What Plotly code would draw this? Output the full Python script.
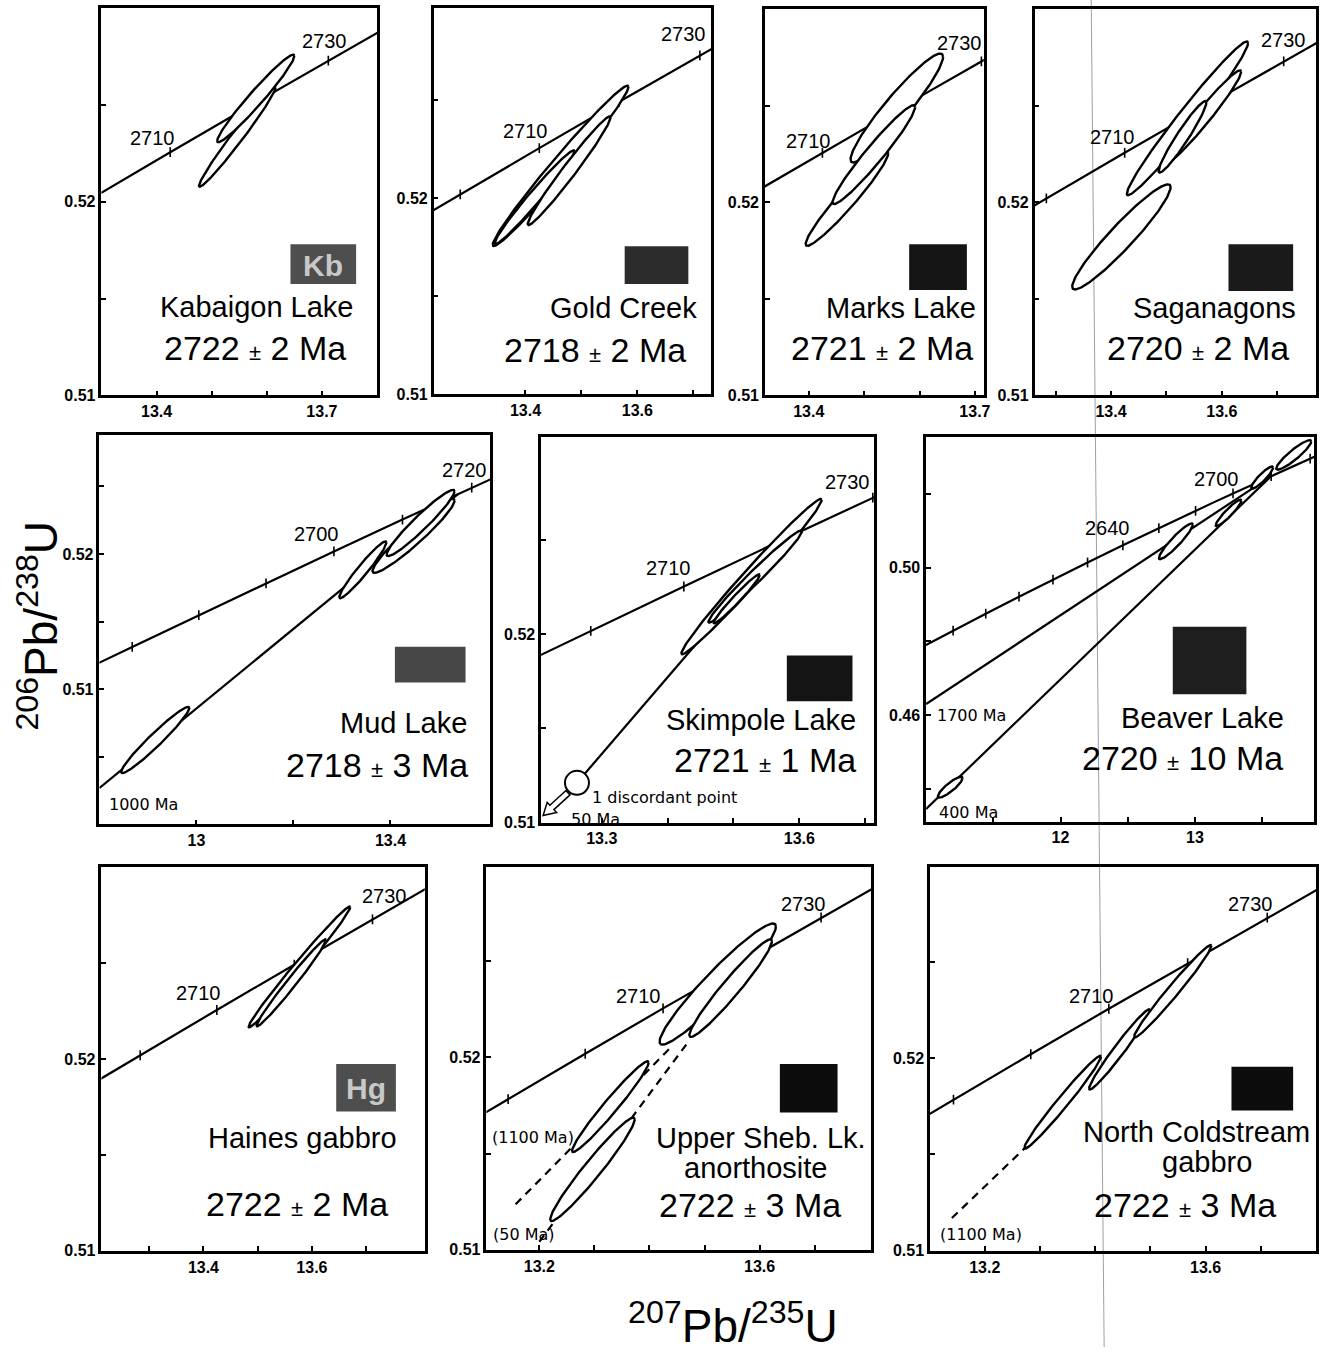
import math
import plotly.graph_objects as go

W, H = 1327, 1356

# ---------------- data ----------------
CONC_AGE = [2520, 2540, 2560, 2580, 2600, 2620, 2640, 2650, 2660, 2670, 2680,
            2690, 2700, 2710, 2720, 2730, 2740, 2750]
CONC_PB207_U235 = [10.96305, 11.20102, 11.44373, 11.69125, 11.94372, 12.20119,
                   12.46379, 12.59705, 12.73162, 12.86752, 13.00477, 13.14339,
                   13.28337, 13.42472, 13.56749, 13.71166, 13.85729, 14.00428]
CONC_PB206_U238 = [0.478333, 0.482927, 0.487534, 0.492157, 0.496794, 0.501445,
                   0.506109, 0.508447, 0.510790, 0.513135, 0.515484, 0.517837,
                   0.520193, 0.522553, 0.524916, 0.527283, 0.529655, 0.532040]

SAMPLE_NAMES = ["Kabaigon Lake", "Gold Creek", "Marks Lake", "Saganagons",
                "Mud Lake", "Skimpole Lake", "Beaver Lake", "Haines gabbro",
                "Upper Sheb. Lk.|anorthosite", "North Coldstream|gabbro"]
AGE_VALUES = [2722, 2718, 2721, 2720, 2718, 2721, 2720, 2722, 2722, 2722]
AGE_ERRORS = [2, 2, 2, 2, 3, 1, 10, 2, 3, 3]
ICON_LABELS = ["Kb", "", "", "", "", "", "", "Hg", "", ""]

# ellipses: (x0 = 207Pb/235U, y0 = 206Pb/238U, sx, sy, rho)
KAB_ELLIPSES = [(13.5465, 0.52336, 0.0695, 0.00259, 0.982),
                (13.580, 0.52533, 0.0700, 0.00226, 0.970)]
GOLD_ELLIPSES = [(13.4628, 0.52165, 0.1214, 0.00409, 0.985),
                 (13.4163, 0.52005, 0.0714, 0.00239, 0.980),
                 (13.478, 0.52140, 0.0740, 0.00277, 0.980)]
MARKS_ELLIPSES = [(13.469, 0.52018, 0.0745, 0.00244, 0.960),
                  (13.559, 0.52487, 0.0835, 0.00282, 0.940),
                  (13.5176, 0.52246, 0.0745, 0.00256, 0.962)]
SAG_ELLIPSES = [(13.4188, 0.51820, 0.0888, 0.00272, 0.945),
                (13.538, 0.52434, 0.1094, 0.00398, 0.980),
                (13.565, 0.52438, 0.0700, 0.00244, 0.970),
                (13.529, 0.52338, 0.0430, 0.00185, 0.955)]
MUD_ELLIPSES = [(12.915, 0.50625, 0.0703, 0.00245, 0.965),
                (13.343, 0.51884, 0.0485, 0.00210, 0.960),
                (13.4475, 0.52135, 0.0846, 0.00274, 0.950),
                (13.462, 0.52230, 0.0700, 0.00245, 0.955)]
SKIM_ELLIPSES = [(13.5275, 0.52308, 0.1065, 0.00413, 0.988),
                 (13.533, 0.52308, 0.0710, 0.00245, 0.982),
                 (13.505, 0.52190, 0.0350, 0.00130, 0.975)]
BEAVER_ELLIPSES = [(11.18, 0.44043, 0.092, 0.00283, 0.87),
                   (12.858, 0.50720, 0.126, 0.00486, 0.93),
                   (13.25, 0.51490, 0.096, 0.00360, 0.93),
                   (13.50, 0.52450, 0.081, 0.00300, 0.90),
                   (13.735, 0.53065, 0.130, 0.00400, 0.91)]
HAINES_ELLIPSES = [(13.577, 0.52480, 0.0936, 0.00315, 0.990),
                   (13.562, 0.52397, 0.0640, 0.00227, 0.985)]
SHEB_ELLIPSES = [(13.524, 0.52382, 0.1056, 0.00315, 0.950),
                 (13.5475, 0.52361, 0.0750, 0.00254, 0.962),
                 (13.329, 0.51744, 0.0695, 0.00236, 0.972),
                 (13.2966, 0.51418, 0.0767, 0.00269, 0.965)]
NC_ELLIPSES = [(13.341, 0.51770, 0.0694, 0.00241, 0.982),
               (13.444, 0.52044, 0.0550, 0.00208, 0.975),
               (13.5405, 0.52346, 0.0700, 0.00240, 0.982)]

# discordia chords: (x list, y list)
MUD_CHORD_X, MUD_CHORD_Y = [12.80, 13.539], [0.5027, 0.52444]
SKIM_CHORD_X, SKIM_CHORD_Y = [13.2624, 13.582], [0.51211, 0.52515]
BEAVER_CHORD1_X, BEAVER_CHORD1_Y = [11.0, 13.567], [0.4630, 0.5249]
BEAVER_CHORD2_X, BEAVER_CHORD2_Y = [11.0, 13.567], [0.4345, 0.5249]
SHEB_CHORD1_X, SHEB_CHORD1_Y = [13.157, 13.4365], [0.51236, 0.52046]
SHEB_CHORD2_X, SHEB_CHORD2_Y = [13.200, 13.4708], [0.51041, 0.52082]
NC_CHORD_X, NC_CHORD_Y = [13.1405, 13.29], [0.51169, 0.5158]
SKIM_DISCORDANT_X, SKIM_DISCORDANT_Y = [13.2624], [0.51211]

# labelled concordia ages per panel
LABELED_AGES = [[2710, 2730], [2710, 2730], [2710, 2730], [2710, 2730],
                [2700, 2720], [2710, 2730], [2640, 2700], [2710, 2730],
                [2710, 2730], [2710, 2730]]

# ---------------- layout / styling ----------------
FONT = "Liberation Sans, Arial, Helvetica, sans-serif"
SMALL_FONT = "DejaVu Sans, sans-serif"

Y_STD = [0.51, 0.515, 0.52, 0.525]
Y_STD_L = ["0.51", "", "0.52", ""]

PANELS = [
    dict(box=(102, 379, 8, 398), xr=(13.3, 13.8), yr=(0.51, 0.53),
         xt=[13.4, 13.5, 13.6, 13.7], xl=["13.4", "", "", "13.7"], yt=Y_STD, yl=Y_STD_L,
         step=10, ell=KAB_ELLIPSES, chords=[],
         conc_lab=[(153, 139), (326, 41)],
         names=[(358, 309, "right")], age=(350, 350, "right"),
         icon=(292, 358, 246, 286), icon_fill="#4e4e4e"),
    dict(box=(436, 715, 8, 397), xr=(13.236, 13.732), yr=(0.51, 0.5297),
         xt=[13.4, 13.5, 13.6, 13.7], xl=["13.4", "", "13.6", ""], yt=Y_STD, yl=Y_STD_L,
         step=10, ell=GOLD_ELLIPSES, chords=[],
         conc_lab=[(528, 132), (687, 34)],
         names=[(703, 310, "right")], age=(692, 352, "right"),
         icon=(628, 692, 248, 286), icon_fill="#2c2c2c"),
    dict(box=(769, 989, 9, 398), xr=(13.321, 13.716), yr=(0.51, 0.53),
         xt=[13.4, 13.5, 13.6, 13.7], xl=["13.4", "", "", "13.7"], yt=Y_STD, yl=Y_STD_L,
         step=10, ell=MARKS_ELLIPSES, chords=[],
         conc_lab=[(813, 142), (965, 43)],
         names=[(983, 310, "right")], age=(980, 350, "right"),
         icon=(914, 972, 246, 292), icon_fill="#141414"),
    dict(box=(1040, 1323, 9, 398), xr=(13.262, 13.770), yr=(0.51, 0.53),
         xt=[13.3, 13.4, 13.5, 13.6, 13.7], xl=["", "13.4", "", "13.6", ""], yt=Y_STD, yl=Y_STD_L,
         step=10, ell=SAG_ELLIPSES, chords=[],
         conc_lab=[(1118, 138), (1290, 40)],
         names=[(1305, 310, "right")], age=(1298, 350, "right"),
         icon=(1235, 1300, 246, 293), icon_fill="#1a1a1a"),
    dict(box=(100, 493, 438, 830), xr=(12.8, 13.606), yr=(0.500, 0.5288),
         xt=[13.0, 13.2, 13.4], xl=["13", "", "13.4"],
         yt=[0.505, 0.51, 0.515, 0.52, 0.525], yl=["", "0.51", "", "0.52", ""],
         step=10, ell=MUD_ELLIPSES, chords=[(MUD_CHORD_X, MUD_CHORD_Y, "solid")],
         conc_lab=[(318, 538), (467, 473)],
         names=[(471, 728, "right")], age=(472, 770, "right"),
         icon=(397, 468, 651, 687), icon_fill="#474747",
         small=[(108, 810, "1000 Ma")]),
    dict(box=(544, 879, 440, 828), xr=(13.208, 13.714), yr=(0.51, 0.5305),
         xt=[13.3, 13.4, 13.5, 13.6, 13.7], xl=["13.3", "", "", "13.6", ""], yt=Y_STD, yl=Y_STD_L,
         step=10, ell=SKIM_ELLIPSES, chords=[(SKIM_CHORD_X, SKIM_CHORD_Y, "solid")],
         conc_lab=[(672, 572), (852, 485)],
         names=[(863, 725, "right")], age=(863, 765, "right"),
         icon=(791, 857, 660, 706), icon_fill="#141414",
         small=[(593, 803, "1 discordant point"), (572, 825, "50 Ma")]),
    dict(box=(931, 1321, 440, 827), xr=(11.0, 13.886), yr=(0.4311, 0.5355),
         xt=[11.5, 12.0, 12.5, 13.0, 13.5], xl=["", "12", "", "13", ""],
         yt=[0.44, 0.46, 0.48, 0.50, 0.52], yl=["", "0.46", "", "0.50", ""],
         step=20, ell=BEAVER_ELLIPSES,
         chords=[(BEAVER_CHORD1_X, BEAVER_CHORD1_Y, "solid"), (BEAVER_CHORD2_X, BEAVER_CHORD2_Y, "solid")],
         conc_lab=[(1113, 532), (1223, 482)],
         names=[(1293, 723, "right")], age=(1292, 763, "right"),
         icon=(1179, 1253, 631, 699), icon_fill="#1e1e1e",
         small=[(940, 720, "1700 Ma"), (942, 818, "400 Ma")]),
    dict(box=(102, 427, 873, 1259), xr=(13.212, 13.808), yr=(0.51, 0.53),
         xt=[13.3, 13.4, 13.5, 13.6, 13.7], xl=["", "13.4", "", "13.6", ""], yt=Y_STD, yl=Y_STD_L,
         step=10, ell=HAINES_ELLIPSES, chords=[],
         conc_lab=[(200, 1000), (387, 902)],
         names=[(401, 1146, "right")], age=(392, 1212, "right"),
         icon=(338, 398, 1071, 1119), icon_fill="#4e4e4e"),
    dict(box=(489, 876, 873, 1258), xr=(13.104, 13.803), yr=(0.51, 0.5299),
         xt=[13.2, 13.3, 13.4, 13.5, 13.6, 13.7], xl=["13.2", "", "", "", "13.6", ""], yt=Y_STD, yl=Y_STD_L,
         step=10, ell=SHEB_ELLIPSES,
         chords=[(SHEB_CHORD1_X, SHEB_CHORD1_Y, "dash"), (SHEB_CHORD2_X, SHEB_CHORD2_Y, "dash")],
         conc_lab=[(642, 1003), (808, 910)],
         names=[(765, 1146, "center"), (760, 1176, "center")], age=(847, 1213, "right"),
         icon=(784, 842, 1071, 1120), icon_fill="#0c0c0c",
         small=[(493, 1145, "(1100 Ma)"), (494, 1243, "(50 Ma)")]),
    dict(box=(935, 1323, 873, 1259), xr=(13.101, 13.80), yr=(0.51, 0.5299),
         xt=[13.2, 13.3, 13.4, 13.5, 13.6, 13.7], xl=["13.2", "", "", "", "13.6", ""], yt=Y_STD, yl=Y_STD_L,
         step=10, ell=NC_ELLIPSES, chords=[(NC_CHORD_X, NC_CHORD_Y, "dash")],
         conc_lab=[(1097, 1003), (1257, 910)],
         names=[(1203, 1140, "center"), (1213, 1170, "center")], age=(1191, 1213, "center"),
         icon=(1238, 1300, 1074, 1118), icon_fill="#0c0c0c",
         small=[(943, 1243, "(1100 Ma)")]),
]


def pp(px, py):
    return px / W, 1 - py / H


def ellipse_xy(x0, y0, sx, sy, rho, n=160):
    s = math.sqrt(1 - rho * rho)
    xs, ys = [], []
    for k in range(n + 1):
        t = 2 * math.pi * k / n
        xs.append(x0 + sx * math.cos(t))
        ys.append(y0 + sy * (rho * math.cos(t) + s * math.sin(t)))
    return xs, ys


def txt(px, py, text, size, family=FONT, xanchor="center", weight="normal", color="black", angle=0):
    x, y = pp(px, py)
    return dict(x=x, y=y, xref="paper", yref="paper", text=text, showarrow=False,
                xanchor=xanchor, yanchor="middle", textangle=angle,
                font=dict(family=family, size=size, color=color, weight=weight))


fig = go.Figure()
annotations = []
shapes = []
layout_axes = {}

for i, P in enumerate(PANELS):
    n = i + 1
    xa = "x" if n == 1 else f"x{n}"
    ya = "y" if n == 1 else f"y{n}"
    L, R, T, B = P["box"]
    axis_common = dict(ticks="inside", ticklen=5, tickwidth=2, tickcolor="black",
                       showline=True, linewidth=2.5, linecolor="black", mirror=True,
                       showgrid=False, zeroline=False, fixedrange=True,
                       tickfont=dict(family=FONT, size=16, color="black", weight="bold"))
    layout_axes["xaxis" if n == 1 else f"xaxis{n}"] = dict(
        domain=[L / W, R / W], range=list(P["xr"]), anchor=ya,
        tickmode="array", tickvals=P["xt"], ticktext=P["xl"], **axis_common)
    layout_axes["yaxis" if n == 1 else f"yaxis{n}"] = dict(
        domain=[1 - B / H, 1 - T / H], range=list(P["yr"]), anchor=xa,
        tickmode="array", tickvals=P["yt"], ticktext=P["yl"], **axis_common)

    # concordia curve
    fig.add_trace(go.Scatter(x=CONC_PB207_U235, y=CONC_PB206_U238, mode="lines",
                             line=dict(color="black", width=2.2), xaxis=xa, yaxis=ya,
                             hoverinfo="skip"))
    tx = [x for a, x in zip(CONC_AGE, CONC_PB207_U235) if a % P["step"] == 0]
    ty = [y for a, y in zip(CONC_AGE, CONC_PB206_U238) if a % P["step"] == 0]
    fig.add_trace(go.Scatter(x=tx, y=ty, mode="markers", xaxis=xa, yaxis=ya,
                             marker=dict(symbol="line-ns", size=7,
                                         line=dict(width=1.6, color="black")),
                             hoverinfo="skip"))
    # chords
    for cx, cy, dash in P["chords"]:
        fig.add_trace(go.Scatter(x=cx, y=cy, mode="lines", xaxis=xa, yaxis=ya,
                                 line=dict(color="black", width=2.2,
                                           dash="solid" if dash == "solid" else "8px,6px"),
                                 hoverinfo="skip"))
    # ellipses
    for e in P["ell"]:
        ex, ey = ellipse_xy(*e)
        fig.add_trace(go.Scatter(x=ex, y=ey, mode="lines", fill="toself",
                                 fillcolor="white", line=dict(color="black", width=2.4),
                                 xaxis=xa, yaxis=ya, hoverinfo="skip"))
    if n == 6:
        fig.add_trace(go.Scatter(x=SKIM_DISCORDANT_X, y=SKIM_DISCORDANT_Y, mode="markers",
                                 xaxis=xa, yaxis=ya, cliponaxis=False,
                                 marker=dict(symbol="circle", size=24, color="white",
                                             line=dict(color="black", width=2)),
                                 hoverinfo="skip"))

    # concordia age labels
    for age, (lx, ly) in zip(LABELED_AGES[i], P["conc_lab"]):
        annotations.append(txt(lx, ly, str(age), 20))

    # sample name lines
    name_lines = SAMPLE_NAMES[i].split("|")
    for line_text, (nx, ny, anc) in zip(name_lines, P["names"]):
        annotations.append(txt(nx, ny, line_text, 29, xanchor=anc))
    ax_, ay_, aanc = P["age"]
    age_text = (f"{AGE_VALUES[i]} <span style='font-size:22px'>±</span> "
                f"{AGE_ERRORS[i]} Ma")
    annotations.append(txt(ax_, ay_, age_text, 34, xanchor=aanc))

    # small labels
    for sx_, sy_, stext in P.get("small", []):
        annotations.append(txt(sx_, sy_, stext, 16, family=SMALL_FONT, xanchor="left"))

    # icon box
    x0, x1, y0, y1 = P["icon"]
    px0, py0 = pp(x0, y1)
    px1, py1 = pp(x1, y0)
    shapes.append(dict(type="rect", xref="paper", yref="paper", x0=px0, x1=px1,
                       y0=py0, y1=py1, fillcolor=P["icon_fill"], line=dict(width=0),
                       layer="above"))
    if ICON_LABELS[i]:
        annotations.append(txt((x0 + x1) / 2, (y0 + y1) / 2 + 1, ICON_LABELS[i], 30,
                               weight="bold", color="#c8c8c8"))

# hollow arrow for the discordant point (Skimpole Lake)
sx0, sy0 = 571.0, 798.0
ex0, ey0 = 546.0, 821.0
dx, dy = ex0 - sx0, ey0 - sy0
ln = math.hypot(dx, dy)
ux, uy = dx / ln, dy / ln
nx_, ny_ = -uy, ux
cxh, cyh = ex0 - ux * 12, ey0 - uy * 12
pts = [(sx0 + nx_ * 3, sy0 + ny_ * 3), (cxh + nx_ * 3, cyh + ny_ * 3),
       (cxh + nx_ * 7, cyh + ny_ * 7), (ex0, ey0), (cxh - nx_ * 7, cyh - ny_ * 7),
       (cxh - nx_ * 3, cyh - ny_ * 3), (sx0 - nx_ * 3, sy0 - ny_ * 3)]
path = "M " + " L ".join(f"{pp(a, b)[0]:.5f},{pp(a, b)[1]:.5f}" for a, b in pts) + " Z"
shapes.append(dict(type="path", xref="paper", yref="paper", path=path,
                   fillcolor="white", line=dict(color="black", width=1.5), layer="above"))

# thin scan line artefact
a0 = pp(1097, 0)
a1 = pp(1110, 1356)
shapes.append(dict(type="line", xref="paper", yref="paper", x0=a0[0], y0=a0[1],
                   x1=a1[0], y1=a1[1], line=dict(color="#a0a0a0", width=1),
                   layer="below"))

# axis titles
annotations.append(txt(38, 630, "<sup>206</sup>Pb/<sup>238</sup>U", 46, angle=-90))
annotations.append(txt(737, 1332, "<sup>207</sup>Pb/<sup>235</sup>U", 46))

fig.update_layout(width=W, height=H, margin=dict(l=0, r=0, t=0, b=0),
                  paper_bgcolor="white", plot_bgcolor="white", showlegend=False,
                  annotations=annotations, shapes=shapes, **layout_axes)

fig.write_html("out.html")
